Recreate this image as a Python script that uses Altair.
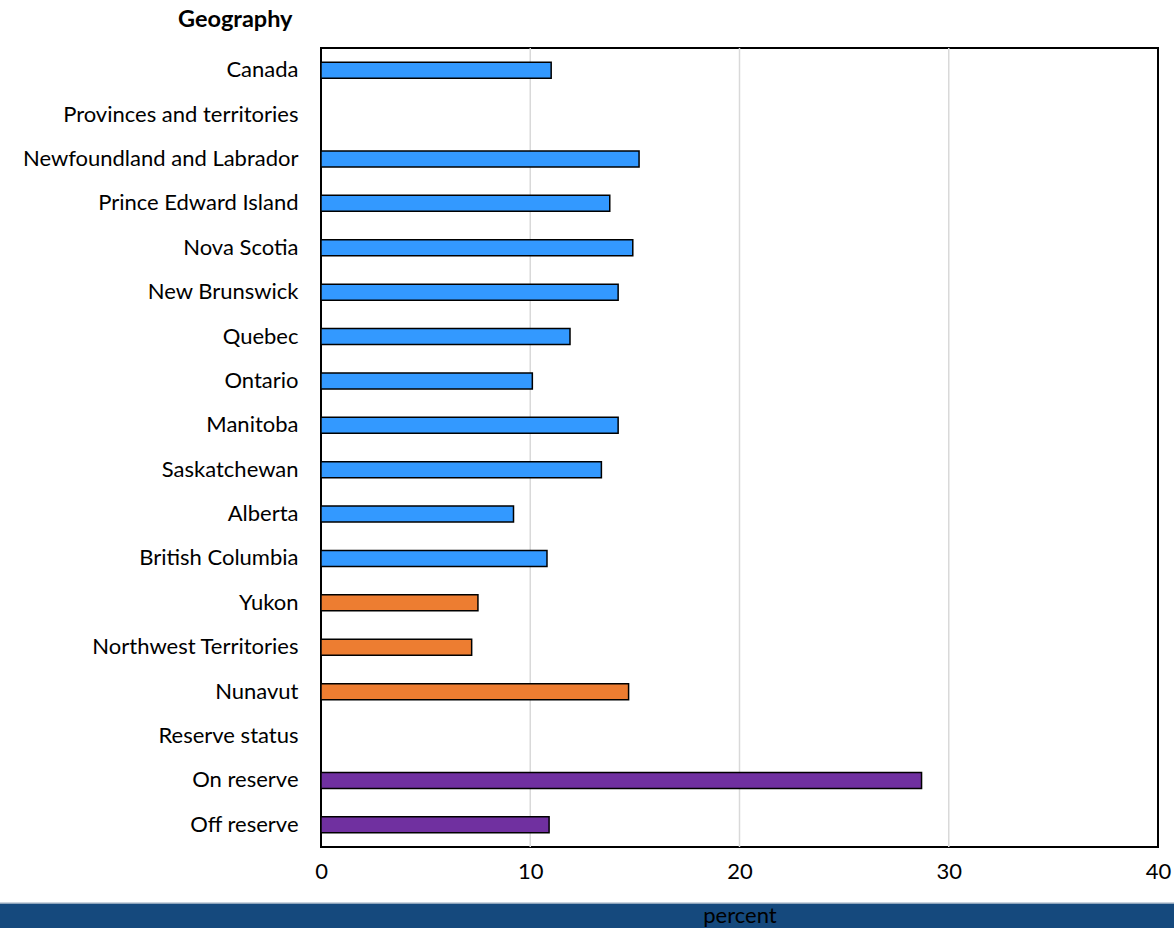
import altair as alt
import pandas as pd

categories = [
    "Canada", "Provinces and territories", "Newfoundland and Labrador",
    "Prince Edward Island", "Nova Scotia", "New Brunswick", "Quebec",
    "Ontario", "Manitoba", "Saskatchewan", "Alberta", "British Columbia",
    "Yukon", "Northwest Territories", "Nunavut", "Reserve status",
    "On reserve", "Off reserve",
]
values = [11.0, None, 15.2, 13.8, 14.9, 14.2, 11.9, 10.1, 14.2, 13.4, 9.2,
          10.8, 7.5, 7.2, 14.7, None, 28.7, 10.9]
groups = ["prov", None, "prov", "prov", "prov", "prov", "prov", "prov",
          "prov", "prov", "prov", "prov", "terr", "terr", "terr", None,
          "res", "res"]
group_names = ["prov", "terr", "res"]
group_colors = ["#3399FF", "#ED7D31", "#7030A0"]
grid_values = [10, 20, 30]
tick_values = [0, 10, 20, 30, 40]

df = pd.DataFrame({"Geography": categories, "value": values, "group": groups})
df = df.dropna()
grid_df = pd.DataFrame({"g": grid_values})

FONT = "Lato"
FS = 22
W, H = 837, 799
PAD_L, PAD_T, PAD_R, PAD_B = 321, 48, 16, 81

band = alt.Chart(pd.DataFrame({"a": [0]})).mark_rect(
    color="#15497D", clip=False
).encode(
    x=alt.value(-PAD_L), x2=alt.value(W + PAD_R),
    y=alt.value(855), y2=alt.value(881),
)

band_edge = alt.Chart(pd.DataFrame({"a": [0]})).mark_rule(
    color="#B8C4D2", strokeWidth=1.5, clip=False
).encode(
    x=alt.value(-PAD_L), x2=alt.value(W + PAD_R), y=alt.value(855),
)

grid = alt.Chart(grid_df).mark_rule(color="#D9D9D9", strokeWidth=1.5).encode(
    x=alt.X("g:Q", scale=alt.Scale(domain=[0, 40]))
)

bars = alt.Chart(df).mark_bar(
    size=16, stroke="black", strokeWidth=1.5
).encode(
    x=alt.X(
        "value:Q",
        scale=alt.Scale(domain=[0, 40], nice=False),
        axis=alt.Axis(
            values=tick_values, grid=False, ticks=False, domain=False,
            labelFontSize=FS, labelFont=FONT, labelColor="black",
            labelPadding=14, labelFlush=False, title="percent",
            titleFont=FONT, titleFontSize=FS, titleFontWeight="normal",
            titleColor="black", titleY=75, titleBaseline="alphabetic",
            zindex=1,
        ),
    ),
    y=alt.Y(
        "Geography:N",
        sort=categories,
        scale=alt.Scale(domain=categories, paddingInner=0, paddingOuter=0),
        axis=alt.Axis(
            ticks=False, domain=False, grid=False,
            labelFontSize=FS, labelFont=FONT, labelColor="black",
            labelPadding=23, labelLimit=400,
            title="Geography", titleFont=FONT, titleFontSize=23.5,
            titleFontWeight="bold", titleColor="black", titleAngle=0,
            titleAlign="right", titleX=-29, titleY=-22,
            titleBaseline="alphabetic", zindex=1,
        ),
    ),
    color=alt.Color(
        "group:N",
        scale=alt.Scale(domain=group_names, range=group_colors),
        legend=None,
    ),
)

chart = alt.layer(grid, bars, band, band_edge).properties(
    width=W, height=H,
    autosize=alt.AutoSizeParams(type="none"),
    padding={"left": PAD_L, "top": PAD_T, "right": PAD_R, "bottom": PAD_B},
    background="white",
).configure_view(
    stroke="black", strokeWidth=2
)

chart.save("out.html", embed_options={"renderer": "svg", "actions": False})
